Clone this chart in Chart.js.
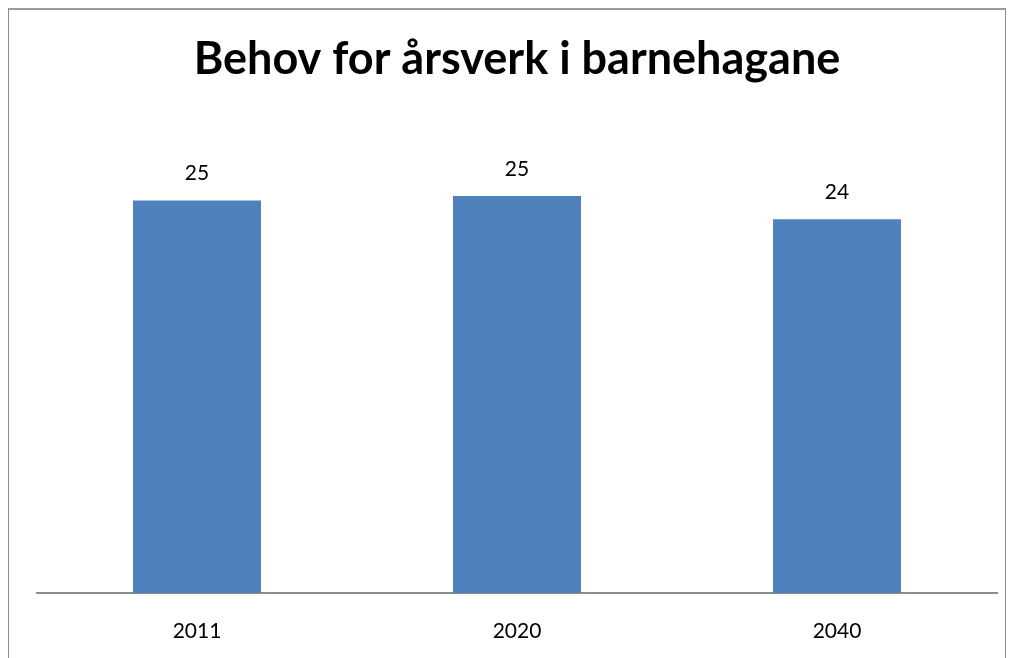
<!DOCTYPE html>
<html>
<head>
<meta charset="utf-8">
<script src="https://cdn.jsdelivr.net/npm/chart.js@4"></script>
<style>
  body { margin: 0; background: #fff; overflow: hidden; }
  #wrap { position: relative; width: 1013px; height: 658px; }
  #frame {
    position: absolute; left: 8px; top: 8px; width: 996px; height: 700px;
    border-left: 1px solid #8c8c8c; border-top: 2px solid #9a9a9a; border-right: 1px solid #8c8c8c;
  }
  canvas { position: absolute; left: 0; top: 0; }
</style>
</head>
<body>
<div id="wrap">
  <div id="frame"></div>
  <canvas id="chart" width="1013" height="658"></canvas>
</div>
<script>
// data
const years = ['2011', '2020', '2040'];
const aarsverk = [25.1, 25.4, 23.9];
const titleText = 'Behov for årsverk i barnehagane';

// verdi over hver stolpe
const barLabels = {
    id: 'barLabels',
    afterDatasetsDraw(chart) {
        const ctx = chart.ctx;
        const meta = chart.getDatasetMeta(0);
        ctx.save();
        ctx.font = '21px Lato';
        ctx.fillStyle = '#000';
        ctx.textAlign = 'center';
        ctx.textBaseline = 'middle';
        meta.data.forEach((bar, i) => {
            ctx.fillText(Math.round(aarsverk[i]), bar.x, bar.y - 27);
        });
        ctx.restore();
    }
};

new Chart(document.getElementById('chart').getContext('2d'), {
    type: 'bar',
    data: {
        labels: years,
        datasets: [{
            data: aarsverk,
            backgroundColor: '#4f81bd',
            borderWidth: 0,
            categoryPercentage: 1,
            barPercentage: 0.4
        }]
    },
    options: {
        responsive: false,
        animation: false,
        layout: { padding: { left: 37, right: 16, top: 20, bottom: 0 } },
        plugins: {
            legend: { display: false },
            tooltip: { enabled: false },
            title: {
                display: true,
                text: titleText,
                color: '#000',
                font: { family: 'Lato', size: 45, weight: 'bold' },
                padding: { top: 12, bottom: 38 }
            }
        },
        scales: {
            x: {
                grid: { display: false, drawTicks: false },
                border: { display: true, color: '#8c8c8c', width: 2 },
                ticks: { color: '#000', font: { family: 'Lato', size: 21 }, padding: 26 },
                afterFit(scale) { scale.height = 65; }
            },
            y: {
                display: false,
                min: 0,
                max: 30
            }
        }
    },
    plugins: [barLabels]
});
</script>
</body>
</html>
